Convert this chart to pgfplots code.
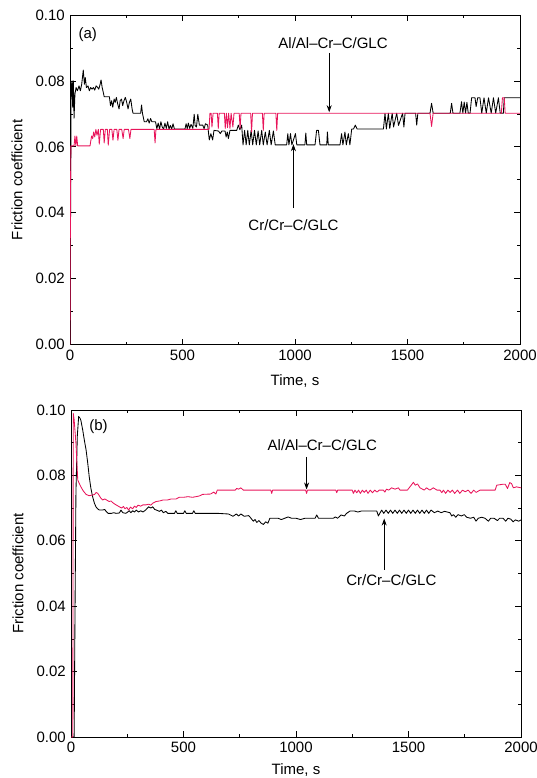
\documentclass[border=0pt]{standalone}
\usepackage{fontspec}
\setmainfont{Liberation Sans}
\usepackage{pgfplots}
\pgfplotsset{compat=1.18}
\usetikzlibrary{arrows.meta}
\definecolor{myred}{RGB}{232,20,90}
\pgfplotsset{
  frstyle/.style={
    scale only axis, width=450pt,
    xmin=0, xmax=2000, ymin=0, ymax=0.1,
    xtick={0,500,1000,1500,2000}, minor x tick num=1,
    ytick={0,0.02,0.04,0.06,0.08,0.1}, minor y tick num=1,
    tick align=inside, tick pos=both,
    major tick length=6pt, minor tick length=3pt,
    scaled y ticks=false, scaled x ticks=false,
    /pgf/number format/assume math mode=true,
    /pgf/number format/1000 sep={},
    yticklabel style={/pgf/number format/fixed, /pgf/number format/precision=2, /pgf/number format/fixed zerofill},
    tick label style={font=\fontsize{15}{18}\selectfont},
    label style={font=\fontsize{15}{18}\selectfont},
    axis line style={line width=0.8pt},
    every tick/.style={black, line width=0.7pt},
    ylabel={Friction coefficient},
    xlabel={Time, s},
    ylabel style={at={(axis description cs:-0.118,0.5)}, anchor=center},
    every axis plot/.append style={no marks, line width=0.85pt, line join=round},
  }
}
\begin{document}
\fontsize{15}{18}\selectfont
\begin{tikzpicture}
\path[use as bounding box] (0,0) rectangle (537pt,-778pt);
% ---------------- (a) ----------------
\begin{axis}[frstyle, height=329.6pt, at={(70pt,-15pt)}, anchor=north west,
  xlabel style={at={(axis description cs:0.5,-0.11)}, anchor=center}]
\addplot[black] coordinates {
(0,0) (2,0.03) (5,0.078) (9,0.080) (12,0.072) (15,0.080) (18,0.0687) (22,0.076) (27,0.078) (33,0.077)
(40,0.0785) (46,0.077) (52,0.079) (59,0.0833) (64,0.079) (68,0.081) (73,0.078) (80,0.0785) (86,0.077)
(92,0.078) (98,0.0775) (104,0.078) (110,0.0772) (116,0.0785) (123,0.078) (128,0.0775) (134,0.079)
(138,0.0803) (143,0.078) (148,0.0765) (152,0.0752) (175,0.0752) (180,0.0725) (185,0.074) (190,0.072)
(196,0.0745) (201,0.0735) (206,0.075) (212,0.073) (218,0.0715) (223,0.074) (229,0.0745) (234,0.0725)
(240,0.074) (246,0.075) (252,0.0735) (258,0.0715) (264,0.0735) (270,0.0745) (276,0.0715) (280,0.0702)
(314,0.0702) (318,0.0727) (322,0.0702) (330,0.0676) (340,0.0676) (346,0.0685) (352,0.0672) (358,0.0686)
(364,0.0676) (380,0.0676) (386,0.0655) (392,0.0672) (398,0.0654) (404,0.0676) (410,0.066) (416,0.0654)
(422,0.0672) (428,0.0656) (434,0.0676) (440,0.0654) (446,0.0665) (452,0.0654) (458,0.067) (464,0.0654)
(511,0.0654) (516,0.067) (521,0.0655) (526,0.0672) (532,0.0656) (538,0.0668) (546,0.0656) (552,0.0699)
(556,0.0665) (562,0.066) (568,0.0699) (575,0.0666) (590,0.0666) (596,0.0655) (602,0.067) (612,0.0666)
(619,0.0621) (626,0.064) (634,0.0621) (640,0.065) (660,0.0648) (668,0.064) (675,0.0648) (689,0.0648)
(694,0.063) (699,0.0645) (704,0.0625) (711,0.065) (741,0.065) (748,0.0666) (755,0.0652) (763,0.0666)
(769,0.0606) (776,0.065) (783,0.0606) (790,0.065) (797,0.0606) (805,0.065) (812,0.0606) (820,0.065)
(828,0.0606) (836,0.0648) (843,0.0606) (852,0.065) (859,0.0606) (868,0.0645) (876,0.0606) (886,0.065)
(894,0.0606) (904,0.0648) (912,0.0606) (963,0.0606) (968,0.064) (973,0.0606) (980,0.064) (986,0.0606)
(1002,0.064) (1008,0.0606) (1044,0.0606) (1048,0.0642) (1052,0.0606) (1089,0.0606) (1096,0.065)
(1104,0.065) (1111,0.0606) (1141,0.0606) (1144,0.0645) (1148,0.0606) (1200,0.0606) (1207,0.064)
(1213,0.0606) (1222,0.0645) (1228,0.0606) (1237,0.064) (1244,0.0606) (1252,0.0654) (1260,0.0654)
(1268,0.0666) (1276,0.0654) (1393,0.0654) (1400,0.0702) (1406,0.0654) (1415,0.0702) (1421,0.0656)
(1432,0.0702) (1438,0.066) (1452,0.0702) (1460,0.0665) (1478,0.0702) (1484,0.066) (1489,0.0702)
(1536,0.0702) (1541,0.0666) (1546,0.0702) (1600,0.0702) (1607,0.0732) (1614,0.0702) (1690,0.0702)
(1696,0.0732) (1702,0.0702) (1733,0.0702) (1740,0.0737) (1746,0.0702) (1752,0.0736) (1758,0.0702)
(1764,0.0735) (1770,0.0702) (1778,0.0702) (1785,0.0749) (1800,0.0749) (1805,0.0722) (1812,0.0749)
(1822,0.0749) (1830,0.0702) (1840,0.0749) (1850,0.0702) (1860,0.0749) (1872,0.0702) (1882,0.0749)
(1892,0.0702) (1904,0.0749) (1912,0.0702) (1926,0.0702) (1930,0.0749) (2000,0.0749)
};
\addplot[myred] coordinates {
(0,0) (2,0.045) (4,0.0603) (18,0.0603) (22,0.0633) (26,0.0603) (30,0.0633) (34,0.0603) (89,0.0603)
(96,0.0633) (101,0.0625) (105,0.0645) (110,0.063) (115,0.0653) (120,0.0635) (126,0.0653) (130,0.0608)
(136,0.0653) (148,0.0653) (152,0.0612) (157,0.0653) (166,0.0653) (170,0.0605) (176,0.0653) (186,0.0653)
(191,0.062) (196,0.0653) (208,0.0653) (213,0.062) (218,0.0653) (230,0.0653) (236,0.0625) (241,0.0653)
(260,0.0653) (266,0.0625) (271,0.0653) (374,0.0653) (378,0.0612) (382,0.0653) (618,0.0653) (622,0.0702)
(627,0.0702) (631,0.066) (636,0.0702) (655,0.0702) (659,0.0656) (663,0.0702) (686,0.0702) (690,0.0656)
(695,0.0702) (700,0.0658) (705,0.0702) (711,0.0656) (716,0.0702) (724,0.066) (729,0.0702) (752,0.0702)
(756,0.0656) (760,0.0702) (803,0.0702) (807,0.0645) (811,0.0702) (855,0.0702) (859,0.065) (863,0.0702)
(915,0.0702) (919,0.065) (923,0.0702) (1600,0.0702) (1607,0.0662) (1614,0.0702) (1917,0.0702)
(1922,0.0749) (1930,0.0749) (1934,0.0702) (2000,0.0702)
};
\node at (axis cs:79,0.094) {(a)};
\node at (axis cs:1169,0.0915) {Al/Al–Cr–C/GLC};
\draw[line width=0.7pt, -{Stealth[length=7pt,width=5pt]}] (axis cs:1152,0.0885) -- (axis cs:1152,0.0705);
\node at (axis cs:993,0.0363) {Cr/Cr–C/GLC};
\draw[line width=0.7pt, -{Stealth[length=7pt,width=5pt]}] (axis cs:993,0.0414) -- (axis cs:993,0.0608);
\end{axis}
% ---------------- (b) ----------------
\begin{axis}[frstyle, height=327pt, at={(71pt,-410pt)}, anchor=north west,
  xlabel style={at={(axis description cs:0.5,-0.1)}, anchor=center}]
\addplot[black] coordinates {
(0,0) (14,0) (18,0.04) (22,0.075) (28,0.092) (34,0.098) (40,0.0975) (44,0.0968) (52,0.0939) (60,0.0905)
(67,0.0878) (74,0.084) (81,0.0796) (88,0.0762) (96,0.0735) (104,0.0715) (111,0.0704) (118,0.0698)
(126,0.0694) (140,0.0694) (150,0.0696) (156,0.069) (165,0.0684) (180,0.0684) (190,0.0686) (200,0.0684)
(215,0.0685) (222,0.0694) (230,0.0686) (244,0.0684) (252,0.0688) (259,0.0692) (266,0.0686) (274,0.0692)
(282,0.0688) (290,0.0694) (300,0.0688) (310,0.0692) (320,0.0688) (333,0.0695) (345,0.0704) (355,0.07)
(363,0.0704) (372,0.0696) (380,0.0694) (393,0.069) (402,0.0694) (410,0.0686) (422,0.069) (430,0.0684)
(460,0.0684) (466,0.0692) (472,0.0684) (500,0.0684) (506,0.0692) (512,0.0684) (540,0.0684) (546,0.0692)
(552,0.0684) (650,0.0684) (700,0.0682) (720,0.0675) (735,0.0682) (745,0.0676) (755,0.0682) (770,0.0675)
(790,0.0677) (800,0.0669) (810,0.066) (818,0.0665) (826,0.0656) (835,0.0662) (845,0.0654) (855,0.065)
(865,0.0658) (875,0.0654) (884,0.0669) (920,0.0669) (935,0.0665) (950,0.0669) (965,0.0673) (980,0.0669)
(1000,0.0669) (1020,0.0665) (1040,0.0669) (1085,0.0669) (1092,0.0679) (1100,0.0669) (1166,0.0669)
(1175,0.0673) (1185,0.0669) (1200,0.0679) (1215,0.0676) (1225,0.0684) (1240,0.0691) (1260,0.0691)
(1275,0.0688) (1290,0.0691) (1359,0.0691) (1366,0.0676) (1374,0.0686) (1381,0.0694) (1390,0.0684)
(1400,0.0694) (1410,0.0684) (1420,0.0694) (1430,0.0684) (1440,0.0694) (1450,0.0684) (1460,0.0694)
(1470,0.0684) (1480,0.0694) (1490,0.0684) (1500,0.0694) (1510,0.0684) (1520,0.0694) (1530,0.0684)
(1540,0.0694) (1550,0.0684) (1560,0.0694) (1570,0.0684) (1580,0.0694) (1590,0.0684) (1600,0.0694)
(1615,0.0686) (1630,0.0691) (1645,0.0686) (1660,0.069) (1684,0.0686) (1692,0.0676) (1700,0.068)
(1710,0.0672) (1720,0.068) (1735,0.0676) (1748,0.068) (1759,0.0672) (1775,0.0669) (1790,0.0672)
(1800,0.066) (1810,0.0669) (1825,0.0672) (1840,0.0669) (1855,0.066) (1865,0.0669) (1880,0.0669)
(1895,0.0662) (1905,0.0669) (1920,0.0669) (1932,0.066) (1942,0.0669) (1955,0.0666) (1965,0.0658)
(1975,0.0664) (1990,0.066) (2000,0.0664)
};
\addplot[myred] coordinates {
(0,0) (8,0) (10,0.099) (14,0.097) (22,0.0898) (30,0.0786) (37,0.0775) (44,0.0765) (55,0.0752) (67,0.0742)
(80,0.0738) (96,0.074) (105,0.0742) (112,0.0748) (119,0.0745) (126,0.0738) (133,0.073) (141,0.0725)
(150,0.0728) (160,0.0724) (170,0.072) (178,0.0722) (185,0.0717) (195,0.0712) (205,0.0708) (215,0.0704)
(225,0.07) (233,0.0705) (240,0.0698) (248,0.0702) (256,0.0694) (264,0.0703) (274,0.0698) (282,0.0706)
(290,0.0702) (298,0.0709) (310,0.0706) (320,0.071) (333,0.071) (345,0.0712) (355,0.0709) (363,0.0715)
(378,0.072) (395,0.0722) (410,0.0725) (430,0.0725) (445,0.0728) (467,0.0728) (481,0.0733) (500,0.0733)
(520,0.0735) (540,0.0733) (570,0.0737) (585,0.0742) (620,0.0743) (635,0.0749) (644,0.0743) (650,0.0755)
(730,0.0755) (736,0.076) (745,0.0758) (755,0.0762) (766,0.0755) (888,0.0755) (892,0.0745) (896,0.0755)
(1043,0.0755) (1047,0.0745) (1051,0.0755) (1177,0.0755) (1181,0.0747) (1185,0.0755) (1250,0.0755)
(1255,0.0745) (1262,0.0755) (1270,0.0747) (1278,0.0755) (1286,0.0745) (1295,0.0755) (1303,0.0748)
(1312,0.0755) (1320,0.0745) (1330,0.0755) (1340,0.0747) (1350,0.0755) (1360,0.0749) (1370,0.0755)
(1388,0.0755) (1395,0.0749) (1402,0.0758) (1412,0.0755) (1425,0.0762) (1440,0.0758) (1455,0.0762)
(1462,0.0755) (1495,0.0755) (1503,0.0762) (1512,0.077) (1522,0.0779) (1530,0.077) (1540,0.0774)
(1551,0.0762) (1562,0.0758) (1570,0.0755) (1580,0.0762) (1595,0.0755) (1610,0.0762) (1627,0.0755)
(1640,0.0755) (1648,0.0747) (1655,0.0755) (1665,0.0745) (1675,0.0755) (1685,0.0748) (1695,0.0755)
(1705,0.0745) (1718,0.0755) (1728,0.0745) (1740,0.0755) (1752,0.075) (1765,0.0755) (1778,0.0745)
(1790,0.0755) (1800,0.0748) (1818,0.0755) (1885,0.0755) (1892,0.077) (1920,0.0773) (1930,0.0773)
(1940,0.076) (1950,0.0778) (1958,0.0775) (1966,0.0762) (1980,0.0765) (2000,0.0762)
};
\node at (axis cs:122,0.095) {(b)};
\node at (axis cs:1117,0.0893) {Al/Al–Cr–C/GLC};
\draw[line width=0.7pt, -{Stealth[length=7pt,width=5pt]}] (axis cs:1047,0.0857) -- (axis cs:1047,0.0757);
\node at (axis cs:1424,0.048) {Cr/Cr–C/GLC};
\draw[line width=0.7pt, -{Stealth[length=7pt,width=5pt]}] (axis cs:1392,0.0511) -- (axis cs:1392,0.0668);
\end{axis}
\end{tikzpicture}
\end{document}
